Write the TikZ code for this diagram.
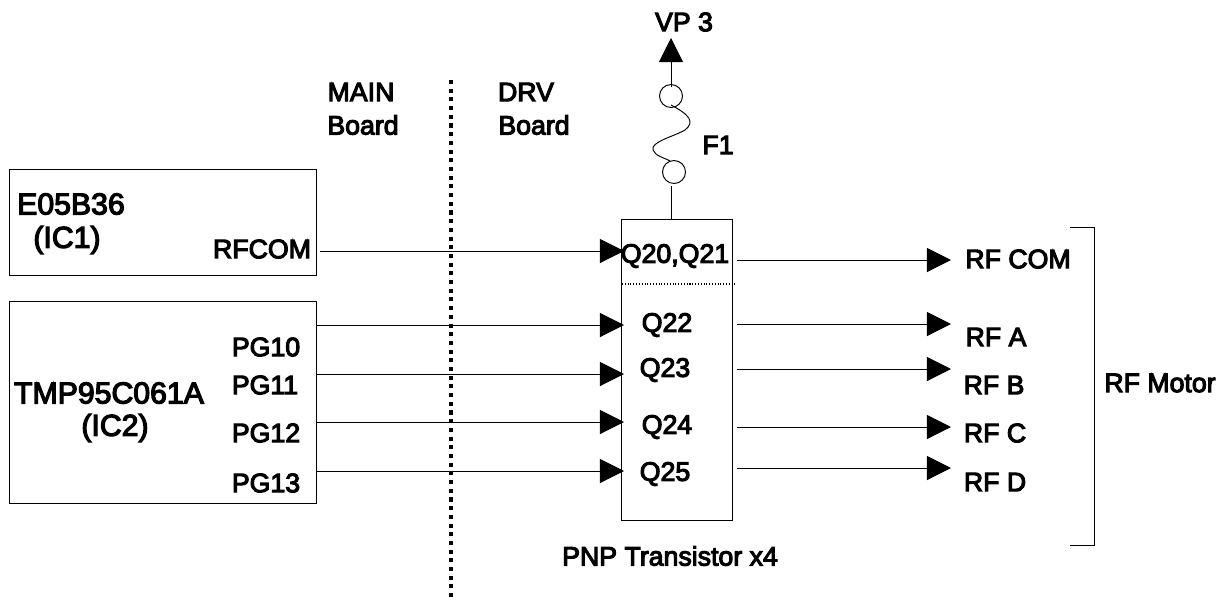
\documentclass[tikz,border=0pt]{standalone}
\usepackage{fontspec}
\setmainfont[FakeBold=4]{Liberation Sans}
\usetikzlibrary{arrows.meta}
\tikzset{
  lbl/.style={inner sep=0pt,font=\fontsize{15.2}{18}\selectfont},
  biglbl/.style={inner sep=0pt,font=\fontsize{17.2}{20}\selectfont},
  chipbox/.style={draw,line width=0.55pt,anchor=north west,inner sep=0pt},
  sig/.style={line width=0.55pt,-{Triangle[length=13.7pt,width=13.7pt]}},
  wire/.style={line width=0.55pt}
}
\begin{document}
\begin{tikzpicture}[x=0.02cm,y=-0.02cm,>=Latex]
  \useasboundingbox (0,0) rectangle (1219,600);
  % left: chips on the main board
  \node[chipbox,minimum width=6.14cm,minimum height=2.12cm] (ic1) at (9,169) {};
  \node[chipbox,minimum width=6.14cm,minimum height=4.04cm] (ic2) at (9,301) {};
  \node[biglbl] (ic1name) at (71,204) {E05B36};
  \node[biglbl] (ic1ref) at (67,240) {(IC1)};
  \node[lbl] (ic1pin) at (262,249) {RFCOM};
  \node[biglbl] (ic2name) at (109,393) {TMP95C061A};
  \node[biglbl] (ic2ref) at (115,428) {(IC2)};
  \foreach \n/\px/\py in {PG10/266/347,PG11/265/385,PG12/266/433,PG13/266/483}
    \node[lbl] (\n) at (\px,\py) {\n};
  % board split
  \coordinate (splittop) at (451,80);
  \coordinate (splitbot) at (451,597);
  \draw[line width=2.3pt,dash pattern=on 2.3pt off 2.65pt] (splittop)--(splitbot);
  \node[lbl] (mainlbl) at (361,92) {MAIN};
  \node[lbl] (mainbrd) at (363,125) {Board};
  \node[lbl] (drvlbl) at (526,92) {DRV};
  \node[lbl] (drvbrd) at (534,125) {Board};
  % transistors
  \node[chipbox,minimum width=2.22cm,minimum height=6.02cm] (qbox) at (621,219) {};
  \coordinate (sepl) at (622,284);
  \coordinate (sepr) at (735,284);
  \draw[line width=0.6pt,densely dotted] (sepl)--(sepr);
  \node[lbl] (q20) at (675,256) {Q20,Q21};
  \foreach \n/\px/\py in {Q22/667/325,Q23/665/370,Q24/667/427,Q25/665/474}
    \node[lbl] (\n) at (\px,\py) {\n};
  \node[lbl] (pnp) at (670,556) {PNP Transistor x4};
  % fuse
  \node[lbl] (vp) at (684,22) {VP 3};
  \node[lbl] (f1) at (718,145) {F1};
  \node[draw,circle,line width=0.55pt,minimum size=0.46cm,inner sep=0pt] (fuseup) at (671,96) {};
  \node[draw,circle,line width=0.55pt,minimum size=0.46cm,inner sep=0pt] (fusedn) at (674,172) {};
  \coordinate (vptip) at (671,38);
  \coordinate (qtop) at (671,219);
  \coordinate (fusefoot) at (671,186);
  \draw[sig] (671,87)--(vptip);
  \draw[wire] (fusefoot)--(qtop);
  \draw[wire] (671,105) .. controls (690,115) and (695,122) .. (685,130)
     .. controls (675,136) and (650,142) .. (653,150)
     .. controls (655,156) and (665,158) .. (670,161);
  % inputs
  \coordinate (ic1out) at (320,251);
  \coordinate (q20in) at (624,251);
  \draw[sig] (ic1out)--(q20in);
  \foreach \n/\y in {22/325,23/374,24/422,25/471}{
    \coordinate (pgout\n) at (316,\y);
    \coordinate (qin\n) at (624,\y);
    \draw[sig] (pgout\n)--(qin\n);
  }
  % outputs
  \foreach \n/\y/\t/\px/\py in {20/260/RF COM/1018/259,22/324/RF A/996/337,23/369/RF B/994/385,24/427/RF C/995/433,25/468/RF D/995/482}{
    \coordinate (qout\n) at (737,\y);
    \coordinate (rfin\n) at (951,\y);
    \draw[sig] (qout\n)--(rfin\n);
    \node[lbl] (rf\n) at (\px,\py) {\t};
  }
  % motor bracket
  \coordinate (brtop) at (1070,227);
  \coordinate (brbot) at (1070,545);
  \draw[wire] (brtop)-|(1094,545)--(brbot);
  \node[lbl] (motor) at (1160,383) {RF Motor};
\end{tikzpicture}
\end{document}
